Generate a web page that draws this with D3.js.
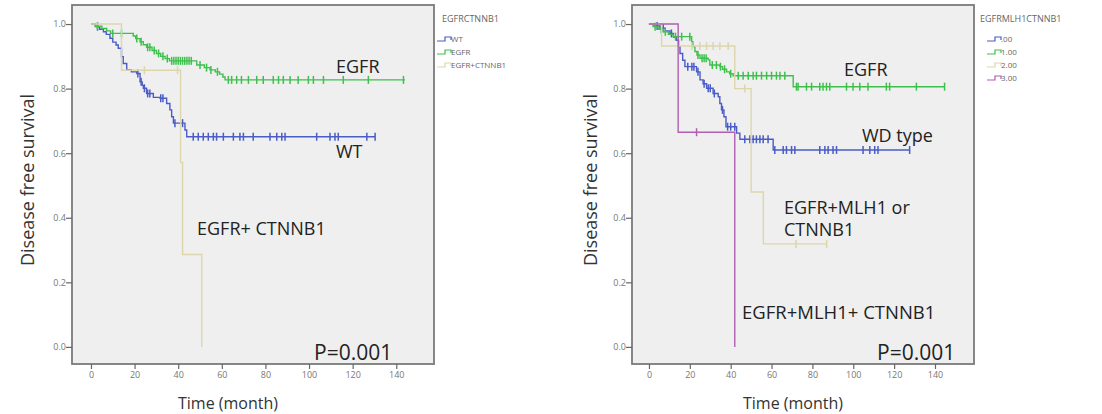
<!DOCTYPE html>
<html>
<head>
<meta charset="utf-8">
<script src="https://cdn.jsdelivr.net/npm/d3@7"></script>
<style>
  body { margin: 0; background: #fff; }
  svg text { font-family: "Open Sans", "Noto Sans", sans-serif; }
</style>
</head>
<body>
<div id="chart"></div>
<script>
// ---- data ----
var xTicks = [0, 20, 40, 60, 80, 100, 120, 140];
var yTicks = [0, 0.2, 0.4, 0.6, 0.8, 1.0];

// left panel: EGFRCTNNB1
var wtTimes = [0, 2, 4, 5.7, 7, 8.7, 10, 11.5, 12.5, 14, 14.8, 16.4, 18.5, 21, 22.5, 23.5, 24, 25.5, 28.6, 31.7, 34.7, 36.2, 37, 37.8, 43.1, 43.9, 130.3];
var wtSurv  = [1, .992, .984, .976, .968, .956, .944, .935, .925, .899, .878, .858, .852, .847, .821, .81, .801, .785, .773, .770, .754, .734, .713, .693, .672, .651, .651];
var wtCensor = [3, 21.5, 23, 24.5, 26, 27, 32, 33, 38.5, 42, 46.9, 49.2, 51.5, 53.8, 56.1, 57.6, 60.7, 65.3, 68.3, 69.9, 74.4, 82.1, 85.2, 87.5, 89, 103.5, 109.6, 111.9, 113.4, 126.5, 130.3];

var egfrTimes = [0, 2, 5, 7.2, 9, 19.4, 20.5, 22.5, 24, 25.5, 28, 30, 32, 34, 36, 48.5, 52, 54.6, 57, 59, 60.5, 61.5, 144];
var egfrSurv  = [1, .993, .986, .979, .971, .963, .955, .945, .936, .928, .918, .909, .9, .893, .886, .873, .865, .858, .852, .845, .836, .827, .827];
var egfrCensor = [3, 10, 14, 21, 23, 26, 27, 29, 31, 33, 35, 37, 38, 39, 40, 41, 42, 43, 44, 45, 46, 50, 53, 55, 58, 63, 64.5, 66.8, 69, 72.2, 76, 79, 83.6, 86, 88.2, 91.3, 95, 99.7, 102, 106.6, 115.7, 127.2, 143.3];

var ctnTimes = [0, 14, 41.1, 42, 50.8];
var ctnSurv  = [1, .857, .571, .286, 0];
var ctnCensor = [24.5, 39.7];

// right panel: EGFRMLH1CTNNB1
var g0Times = [0, 2.5, 5.4, 8, 10.3, 12, 13.5, 14.5, 15.2, 16.5, 17.6, 23.3, 25, 26.5, 28.2, 31.4, 33.9, 34.7, 35.5, 36.7, 37.7, 42.9, 44.5, 60.8, 127.6];
var g0Surv  = [1, .994, .987, .979, .971, .960, .950, .930, .909, .888, .868, .852, .827, .815, .801, .785, .775, .754, .734, .713, .682, .662, .643, .610, .610];
var g0Censor = [4, 7, 11, 19, 21, 22, 24, 27, 29, 30, 32, 36, 38.5, 40, 42, 46.9, 49.4, 51, 52.6, 54.3, 55.9, 58.3, 61.6, 65.7, 67.3, 69.8, 71.4, 83.6, 86.1, 87.7, 90.1, 91.8, 104.8, 108.1, 110.5, 112.1, 127.6];

var g1Times = [0, 2, 4.5, 7, 9.5, 11.9, 20.9, 21.5, 22.5, 23.5, 25, 29, 29.8, 34.7, 36, 38, 39.5, 41.2, 70.6, 144.7];
var g1Surv  = [1, .992, .984, .976, .968, .961, .945, .930, .915, .904, .894, .889, .873, .868, .860, .852, .846, .840, .806, .806];
var g1Censor = [3, 6, 8, 13, 16, 20, 24, 26, 27, 28, 31, 33, 35, 37, 40, 43.7, 46.1, 48.6, 51, 52.6, 55.1, 57.6, 60, 62.4, 64.1, 66.5, 72.2, 73, 77.1, 79.6, 83.6, 85.2, 86.9, 88.5, 96.7, 99.9, 103.2, 107.2, 116.2, 117.8, 130.9, 144.7];

var g2Times = [0, 6.2, 42, 50, 56, 87];
var g2Surv  = [1, .932, .80, .48, .319, .319];
var g2Censor = [20.9, 24.9, 28.2, 31.4, 34.7, 38.8, 46.9, 72, 87];

var g3Times = [0, 14.3, 42];
var g3Surv  = [1, .665, 0];
var g3Censor = [23.3];

var blue = "#4a5cc6", green = "#3fc04d", tan = "#ddd6ad", purple = "#b05fb2";

var svg = d3.select("#chart").append("svg")
    .attr("width", 1102)
    .attr("height", 414);

// survival value of a step curve at time t
function survAt(times, surv, t) {
  var i = d3.bisectRight(times, t) - 1;
  return surv[Math.max(0, i)];
}

function drawPanel(p) {
  var x = d3.scaleLinear().domain(p.xDomain).range([p.left, p.right]);
  var y = d3.scaleLinear().domain([-0.053, 1.059]).range([364, 5]);

  var g = svg.append("g");

  g.append("rect")
    .attr("x", p.left).attr("y", 5)
    .attr("width", p.right - p.left).attr("height", 359)
    .attr("fill", "#efefef")
    .attr("stroke", "#7a7a7a")
    .attr("stroke-width", 1.8);

  var yAxis = g.append("g")
    .attr("transform", "translate(" + p.left + ",0)")
    .call(d3.axisLeft(y).tickValues(yTicks).tickSize(6).tickFormat(d3.format(".1f")));
  var xAxis = g.append("g")
    .attr("transform", "translate(0,364)")
    .call(d3.axisBottom(x).tickValues(xTicks).tickSize(5));
  [xAxis, yAxis].forEach(function(a) {
    a.select(".domain").remove();
    a.selectAll("line").attr("stroke", "#666").attr("stroke-width", 1.2);
    a.selectAll("text").attr("fill", "#777").style("font-size", "9px");
  });
  yAxis.selectAll("text").attr("x", -6);

  var line = d3.line()
    .x(function(d) { return x(d[0]); })
    .y(function(d) { return y(d[1]); })
    .curve(d3.curveStepAfter);

  p.series.forEach(function(s) {
    g.append("path")
      .datum(d3.zip(s.times, s.surv))
      .attr("fill", "none")
      .attr("stroke", s.color)
      .attr("stroke-width", 1.4)
      .attr("d", line);
    g.selectAll(null)
      .data(s.censor)
      .enter().append("line")
      .attr("x1", function(d) { return x(d); })
      .attr("x2", function(d) { return x(d); })
      .attr("y1", function(d) { return y(survAt(s.times, s.surv, d)) - 4; })
      .attr("y2", function(d) { return y(survAt(s.times, s.surv, d)) + 4; })
      .attr("stroke", s.color)
      .attr("stroke-width", 1.5);
  });

  // axis titles
  g.append("text")
    .attr("transform", "translate(" + p.yLabelX + ",180) rotate(-90)")
    .attr("text-anchor", "middle")
    .attr("fill", "#333")
    .style("font-size", "18px")
    .text("Disease free survival");
  g.append("text")
    .attr("x", p.xLabelX).attr("y", 409)
    .attr("text-anchor", "middle")
    .attr("fill", "#333")
    .style("font-size", "16px")
    .text("Time (month)");

  // legend
  var lg = g.append("g").attr("transform", "translate(" + p.legendX + ",0)");
  lg.append("text")
    .attr("x", 5).attr("y", 22)
    .attr("fill", "#666")
    .style("font-size", "9px")
    .text(p.legendTitle);
  p.series.forEach(function(s, i) {
    var yy = 39 + i * 13;
    lg.append("path")
      .attr("d", "M" + p.symX + "," + (yy + 2) + "H" + (p.symX + 8) + "V" + (yy - 2) + "H" + (p.symX + 14) + "V" + (yy + 1))
      .attr("fill", "none")
      .attr("stroke", s.color)
      .attr("stroke-width", 1.2);
    lg.append("text")
      .attr("x", p.symX + 14).attr("y", yy + 3)
      .attr("fill", "#666")
      .style("font-size", "8px")
      .text(s.name);
  });

  // annotations
  p.notes.forEach(function(n) {
    g.append("text")
      .attr("x", n[0]).attr("y", n[1])
      .attr("fill", "#222")
      .style("font-size", (n[3] || 18) + "px")
      .text(n[2]);
  });
}

drawPanel({
  left: 72, right: 434,
  xDomain: [-8.7, 157.3],
  yLabelX: 34, xLabelX: 228,
  legendX: 437, symX: 0,
  legendTitle: "EGFRCTNNB1",
  series: [
    {name: "WT", times: wtTimes, surv: wtSurv, censor: wtCensor, color: blue},
    {name: "EGFR", times: egfrTimes, surv: egfrSurv, censor: egfrCensor, color: green},
    {name: "EGFR+CTNNB1", times: ctnTimes, surv: ctnSurv, censor: ctnCensor, color: tan}
  ],
  notes: [
    [336, 73, "EGFR"],
    [336, 158, "WT"],
    [197, 235, "EGFR+ CTNNB1"],
    [314, 360, "P=0.001", 21]
  ]
});

drawPanel({
  left: 632, right: 974,
  xDomain: [-8.3, 159.1],
  yLabelX: 597, xLabelX: 793,
  legendX: 975, symX: 12,
  legendTitle: "EGFRMLH1CTNNB1",
  series: [
    {name: ".00", times: g0Times, surv: g0Surv, censor: g0Censor, color: blue},
    {name: "1.00", times: g1Times, surv: g1Surv, censor: g1Censor, color: green},
    {name: "2.00", times: g2Times, surv: g2Surv, censor: g2Censor, color: tan},
    {name: "3.00", times: g3Times, surv: g3Surv, censor: g3Censor, color: purple}
  ],
  notes: [
    [844, 76, "EGFR"],
    [862, 142, "WD type"],
    [784, 214, "EGFR+MLH1 or"],
    [784, 236, "CTNNB1"],
    [742, 319, "EGFR+MLH1+ CTNNB1", 18.5],
    [877, 360, "P=0.001", 21]
  ]
});
</script>
</body>
</html>
